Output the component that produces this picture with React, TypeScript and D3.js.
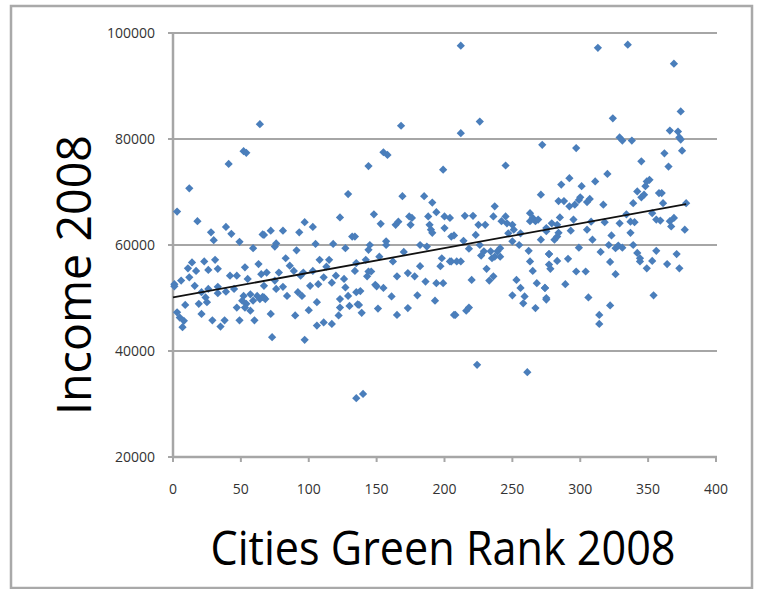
import React, { useEffect, useRef } from "react";
import * as d3 from "d3";

type Pt = [number, number];

// [green rank, income], grouped by rank band
const band0to68: Pt[] = [
  [12, 70700], [3, 66300], [18, 64500], [28, 62400], [39, 63400], [43, 62100], [30, 60900],
  [49, 60600], [66, 62000], [59, 59400], [14, 56700], [11, 55600], [23, 56900], [31, 57200],
  [26, 55300], [33, 55500], [17, 55100], [53, 55800], [63, 56400], [42, 54200], [47, 54200],
  [12, 53900], [6, 53300], [1, 52600], [1, 52200], [16, 52300], [55, 53600], [65, 54500],
  [33, 52100], [26, 51700], [21, 51100], [33, 50900], [39, 51200], [45, 51700], [52, 50400],
  [57, 50700], [62, 50400], [67, 50100], [59, 49500], [64, 49800], [9, 48700], [19, 48900],
  [25, 49200], [24, 50100], [51, 49500], [54, 48900], [47, 48200], [3, 47300], [5, 46300],
  [8, 45700], [7, 44500], [21, 47000], [29, 45800], [38, 45800], [35, 44600], [49, 45800],
  [60, 45800], [57, 47600], [53, 48200], [64, 82800], [52, 77700], [54, 77400], [41, 75300],
];

const band65to136: Pt[] = [
  [129, 69600], [123, 65200], [97, 64300], [103, 63400], [81, 62700], [72, 62700], [67, 61900],
  [93, 62400], [132, 61600], [75, 59700], [76, 60300], [91, 59000], [105, 60200], [118, 60200],
  [127, 59400], [83, 57500], [86, 56100], [89, 55100], [108, 57200], [115, 57200], [113, 55900],
  [134, 55100], [69, 54800], [78, 54800], [96, 54800], [103, 55100], [94, 54200], [111, 53900],
  [120, 54200], [126, 53600], [75, 53300], [81, 52100], [67, 52300], [101, 52300], [107, 52600],
  [117, 52900], [127, 52000], [66, 50200], [68, 49800], [76, 51700], [84, 50400], [92, 51100],
  [95, 50400], [129, 50400], [123, 49800], [135, 51100], [106, 49200], [123, 48200], [130, 48500],
  [136, 48800], [72, 47000], [90, 46700], [100, 47700], [122, 46700], [111, 45400], [117, 45100],
  [106, 44800], [73, 42600], [97, 42100],
];

const band134to207: Pt[] = [
  [168, 82500], [155, 77500], [158, 77000], [144, 74900], [199, 74200], [169, 69200], [185, 69200],
  [191, 68000], [194, 66200], [148, 65800], [153, 64000], [164, 63800], [166, 64400], [174, 65400],
  [176, 65100], [175, 63800], [188, 65400], [189, 63800], [190, 62900], [191, 62300], [200, 65400],
  [200, 63200], [205, 61600], [134, 61600], [145, 60000], [144, 59100], [157, 60700], [157, 60000],
  [182, 60000], [187, 59700], [170, 58700], [142, 57200], [152, 57800], [162, 56900], [198, 57500],
  [205, 56900], [135, 56600], [144, 55000], [143, 54100], [146, 55000], [165, 54100], [173, 54700],
  [178, 54100], [182, 56000], [186, 53100], [194, 52800], [199, 52800], [197, 56000], [138, 51300],
  [149, 52500], [150, 52200], [155, 51900], [161, 50300], [180, 50500], [137, 48700], [139, 47200],
  [151, 48000], [165, 46800], [173, 48100], [193, 49500], [207, 46800], [135, 31100], [140, 31900],
];

const band204to277: Pt[] = [
  [212, 97600], [226, 83300], [212, 81100], [272, 78900], [245, 75000], [271, 69500], [237, 67300],
  [215, 65500], [221, 65500], [236, 65400], [242, 64500], [245, 65400], [246, 64100], [250, 63800],
  [251, 62900], [263, 66000], [265, 65100], [267, 64500], [269, 64800], [263, 64500], [225, 63800],
  [230, 63800], [275, 63200], [204, 65100], [207, 61800], [214, 60800], [223, 61900], [247, 62200],
  [256, 62200], [218, 59300], [226, 60000], [229, 58800], [227, 58000], [234, 58800], [239, 58800],
  [241, 59400], [235, 57500], [237, 57800], [241, 57800], [250, 60700], [255, 60000], [262, 58900],
  [271, 61000], [277, 58300], [204, 56900], [209, 56900], [212, 56900], [231, 55500], [220, 53400],
  [233, 53300], [236, 54100], [263, 56900], [265, 55100], [253, 53400], [256, 51900], [268, 52800],
  [274, 51900], [277, 56300], [250, 50500], [259, 50300], [258, 49000], [267, 48100], [275, 49700],
  [208, 46800], [216, 47600], [218, 48200], [224, 37400], [261, 36000],
];

const band274to345: Pt[] = [
  [313, 97200], [335, 97800], [324, 83900], [329, 80300], [331, 79700], [338, 79700], [297, 78300],
  [345, 75800], [320, 73400], [292, 72600], [311, 72000], [286, 71400], [301, 71100], [342, 70100],
  [284, 68300], [288, 68300], [292, 67300], [296, 67600], [299, 68500], [300, 69000], [305, 68100],
  [307, 68700], [317, 67600], [339, 67900], [345, 69000], [334, 65800], [285, 65200], [279, 64100],
  [283, 63800], [295, 64800], [308, 64400], [318, 64300], [329, 64100], [337, 64400], [340, 64300],
  [275, 62600], [284, 62300], [293, 62700], [305, 62900], [281, 61000], [283, 61600], [323, 61800],
  [337, 62300], [309, 61000], [299, 59500], [321, 60000], [326, 59400], [328, 59900], [331, 59500],
  [339, 60000], [315, 58700], [277, 58300], [283, 57000], [291, 57400], [322, 56800], [342, 58500],
  [344, 56900], [278, 55500], [297, 55000], [304, 55000], [326, 54500], [289, 52600], [274, 51900],
  [275, 50000], [306, 50100], [322, 48600], [314, 46800], [314, 45100],
];

const band344to378: Pt[] = [
  [369, 94200], [374, 85200], [366, 81600], [372, 81400], [373, 80300], [374, 79900], [375, 77800],
  [362, 77300], [365, 74800], [349, 72000], [351, 72300], [348, 71100], [347, 69500], [358, 69800],
  [360, 69800], [361, 67900], [378, 67900], [353, 66000], [356, 64800], [359, 64600], [366, 64500],
  [369, 65100], [367, 63500], [377, 62900], [356, 58900], [353, 57000], [349, 55600], [344, 57500],
  [364, 56400], [371, 58300], [373, 55600], [354, 50500],
];

// linear trendline end points
const trend: Pt[] = [[0, 50100], [378, 67700]];

const xTicks = [0, 50, 100, 150, 200, 250, 300, 350, 400];
const yTicks = [20000, 40000, 60000, 80000, 100000];

const width = 759;
const height = 589;

export default function App() {
  const svgRef = useRef<SVGSVGElement | null>(null);

  useEffect(() => {
    const svg = d3.select(svgRef.current);
    svg.selectAll("*").remove();

    const data = [
      ...band0to68,
      ...band65to136,
      ...band134to207,
      ...band204to277,
      ...band274to345,
      ...band344to378,
    ];

    const x = d3.scaleLinear().domain([0, 400]).range([173, 716]);
    const y = d3.scaleLinear().domain([20000, 100000]).range([457, 33]);

    // outer frame
    svg
      .append("rect")
      .attr("x", 11)
      .attr("y", 6)
      .attr("width", 741)
      .attr("height", 582)
      .attr("fill", "#fff")
      .attr("stroke", "#a9a9a9")
      .attr("stroke-width", 2.5);

    // gridlines
    svg
      .append("g")
      .selectAll("line")
      .data(yTicks.slice(1))
      .join("line")
      .attr("x1", x(0) - 5)
      .attr("x2", x(400) + 1)
      .attr("y1", (d) => y(d))
      .attr("y2", (d) => y(d))
      .attr("stroke", "#a6a6a6")
      .attr("stroke-width", 2);

    // y axis
    const yAxis = svg.append("g");
    yAxis
      .append("line")
      .attr("x1", x(0))
      .attr("x2", x(0))
      .attr("y1", y(100000) - 1)
      .attr("y2", y(20000))
      .attr("stroke", "#a6a6a6")
      .attr("stroke-width", 2.5);
    yAxis
      .selectAll("line.tick")
      .data(yTicks)
      .join("line")
      .attr("class", "tick")
      .attr("x1", x(0) - 5)
      .attr("x2", x(0))
      .attr("y1", (d) => y(d))
      .attr("y2", (d) => y(d))
      .attr("stroke", "#a6a6a6")
      .attr("stroke-width", 2);
    yAxis
      .selectAll("text")
      .data(yTicks)
      .join("text")
      .attr("x", 155)
      .attr("y", (d) => y(d))
      .attr("dy", "0.36em")
      .attr("text-anchor", "end")
      .attr("font-family", "'Open Sans', sans-serif")
      .attr("font-size", 14)
      .attr("fill", "#333")
      .text((d) => String(d));

    // x axis
    const xAxis = svg.append("g");
    xAxis
      .append("line")
      .attr("x1", x(0) - 1)
      .attr("x2", x(400) + 1)
      .attr("y1", y(20000))
      .attr("y2", y(20000))
      .attr("stroke", "#a6a6a6")
      .attr("stroke-width", 2.5);
    xAxis
      .selectAll("line.tick")
      .data(xTicks)
      .join("line")
      .attr("class", "tick")
      .attr("x1", (d) => x(d))
      .attr("x2", (d) => x(d))
      .attr("y1", y(20000))
      .attr("y2", y(20000) + 5)
      .attr("stroke", "#a6a6a6")
      .attr("stroke-width", 2);
    xAxis
      .selectAll("text")
      .data(xTicks)
      .join("text")
      .attr("x", (d) => x(d))
      .attr("y", 489)
      .attr("dy", "0.36em")
      .attr("text-anchor", "middle")
      .attr("font-family", "'Open Sans', sans-serif")
      .attr("font-size", 14)
      .attr("fill", "#333")
      .text((d) => String(d));

    // points
    const diamond = d3.symbol().type(d3.symbolSquare).size(34);
    svg
      .append("g")
      .selectAll("path")
      .data(data)
      .join("path")
      .attr("d", diamond)
      .attr("transform", (d) => `translate(${x(d[0])},${y(d[1])}) rotate(45)`)
      .attr("fill", "#4a7ebb");

    // trendline
    svg
      .append("path")
      .datum(trend)
      .attr("fill", "none")
      .attr("stroke", "#111")
      .attr("stroke-width", 1.8)
      .attr(
        "d",
        d3
          .line<Pt>()
          .x((d) => x(d[0]))
          .y((d) => y(d[1]))
      );

    // axis titles
    svg
      .append("text")
      .attr("x", 443)
      .attr("y", 565)
      .attr("text-anchor", "middle")
      .attr("font-family", "'Open Sans', sans-serif")
      .attr("font-size", 48)
      .attr("textLength", 465)
      .attr("lengthAdjust", "spacingAndGlyphs")
      .attr("fill", "#000")
      .text("Cities Green Rank 2008");

    svg
      .append("text")
      .attr("transform", "translate(91,275) rotate(-90)")
      .attr("text-anchor", "middle")
      .attr("font-family", "'Open Sans', sans-serif")
      .attr("font-size", 48)
      .attr("textLength", 280)
      .attr("lengthAdjust", "spacingAndGlyphs")
      .attr("fill", "#000")
      .text("Income 2008");
  }, []);

  return (
    <svg
      ref={svgRef}
      width={width}
      height={height}
      style={{ position: "absolute", left: 0, top: 0, background: "#fff" }}
    ></svg>
  );
}
